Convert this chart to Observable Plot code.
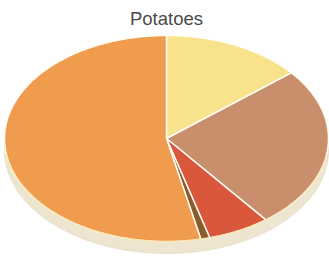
<!DOCTYPE html>
<html><head><meta charset="utf-8">
<script src="https://cdn.jsdelivr.net/npm/d3@7"></script>
<script src="https://cdn.jsdelivr.net/npm/@observablehq/plot@0.6"></script>
<style>body{margin:0;background:#fff}</style>
</head><body><div id="chart"></div>
<script>
const title = "Potatoes";
const categories = ["Group 1", "Group 2", "Group 3", "Group 4", "Group 5"];
const shares = [14, 25.5, 6.2, 0.9, 53.4];
const palette = ["#f8e38c", "#c98f6d", "#d9583c", "#8c5b2c", "#ef9c4f"];
const sideColor = "#ede5cf";

const W = 329, H = 259;
const mL = 4, mR = 1, mT = 35, mB = 18;
const depth = 12 / ((H - mT - mB) / 2); // side thickness in data units

const pie = d3.pie().sort(null).value(d => d.share);
const arcs = pie(categories.map((name, i) => ({name, share: shares[i]})));
const slicePts = [];
for (const a of arcs) {
  slicePts.push({name: a.data.name, x: 0, y: 0});
  const n = Math.max(2, Math.ceil((a.endAngle - a.startAngle) / (Math.PI / 360)));
  for (let k = 0; k <= n; k++) {
    const t = a.startAngle + (a.endAngle - a.startAngle) * k / n;
    slicePts.push({name: a.data.name, x: Math.sin(t), y: Math.cos(t)});
  }
}
// side (rim) polygon: lower half of the ellipse and its copy shifted down
const sidePts = [];
for (let k = 0; k <= 360; k++) {
  const t = Math.PI / 2 + Math.PI * k / 360;
  sidePts.push({x: Math.sin(t), y: Math.cos(t)});
}
for (let k = 360; k >= 0; k--) {
  const t = Math.PI / 2 + Math.PI * k / 360;
  sidePts.push({x: Math.sin(t), y: Math.cos(t) - depth});
}
const rimPts = [];
for (let k = 0; k <= 360; k++) {
  const t = Math.PI * 0.55 + Math.PI * 0.9 * k / 360;
  rimPts.push({x: Math.sin(t), y: Math.cos(t)});
}

const chart = Plot.plot({
  width: W, height: H,
  marginLeft: mL, marginRight: mR, marginTop: mT, marginBottom: mB,
  x: {domain: [-1, 1], axis: null},
  y: {domain: [-1, 1], axis: null},
  color: {domain: categories, range: palette},
  style: {fontFamily: "'Liberation Sans', Arial, sans-serif", background: "#fff", overflow: "visible"},
  marks: [
    Plot.line(sidePts, {x: "x", y: "y", fill: sideColor, stroke: "#e6dcc4", strokeWidth: 0.8, curve: "linear-closed"}),
    Plot.line(slicePts, {x: "x", y: "y", z: "name", fill: "name", stroke: "#fffdf5", strokeWidth: 1.5, strokeLinejoin: "round", curve: "linear-closed"}),
    Plot.line(rimPts, {x: "x", y: "y", stroke: "#f7d77a", strokeWidth: 1, strokeOpacity: 0.8}),
    Plot.text([title], {text: d => d, frameAnchor: "top", lineAnchor: "bottom", dy: -11, fontSize: 18.5, fill: "#4a4a4a"})
  ]
});
document.getElementById("chart").appendChild(chart);
</script>
</body></html>
